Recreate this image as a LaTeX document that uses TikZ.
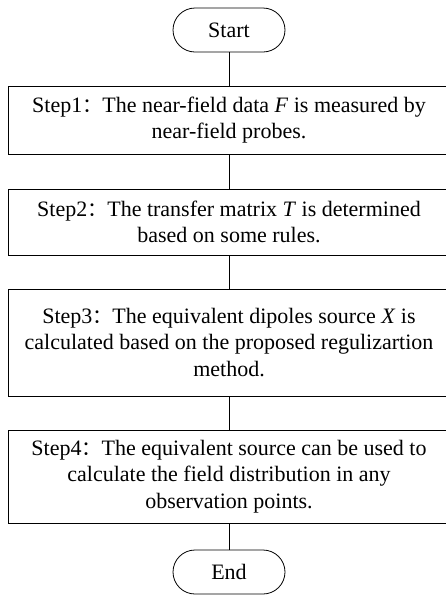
\documentclass[tikz,border=0pt]{standalone}
\usepackage{fontspec}
\setmainfont{Liberation Serif}
\newfontfamily\cjk{Noto Sans CJK SC}
\usetikzlibrary{shapes.misc}
\begin{document}
\begin{tikzpicture}[x=1pt,y=1pt,
  every node/.style={font=\fontsize{22}{26.5}\selectfont, inner sep=0pt, align=center},
  stepbox/.style={draw, line width=0.8pt, rectangle, minimum width=442pt},
  term/.style={draw, line width=0.8pt, rounded rectangle, minimum width=112pt, minimum height=44pt},
  conn/.style={line width=0.8pt}]
\useasboundingbox (0,0) rectangle (446,-595);
\node[term] (start) at (229,-30) {Start};
\node[stepbox, minimum height=68pt] (s1) at (229,-120) {Step1{\cjk\fontsize{20}{26.5}\selectfont ：}The near-field data \textit{F} is measured by\\near-field probes.};
\node[stepbox, minimum height=66pt] (s2) at (229,-222) {Step2{\cjk\fontsize{20}{26.5}\selectfont ：}The transfer matrix \textit{T} is determined\\based on some rules.};
\node[stepbox, minimum height=107pt] (s3) at (229,-342.5) {Step3{\cjk\fontsize{20}{26.5}\selectfont ：}The equivalent dipoles source \textit{X} is\\calculated based on the proposed regulizartion\\method.};
\node[stepbox, minimum height=93pt] (s4) at (229,-476.5) {Step4{\cjk\fontsize{20}{26.5}\selectfont ：}The equivalent source can be used to\\calculate the field distribution in any\\observation points.};
\node[term] (end) at (229,-572) {End};
\draw[conn] (start.south) -- (s1.north);
\draw[conn] (s1.south) -- (s2.north);
\draw[conn] (s2.south) -- (s3.north);
\draw[conn] (s3.south) -- (s4.north);
\draw[conn] (s4.south) -- (end.north);
\end{tikzpicture}
\end{document}
